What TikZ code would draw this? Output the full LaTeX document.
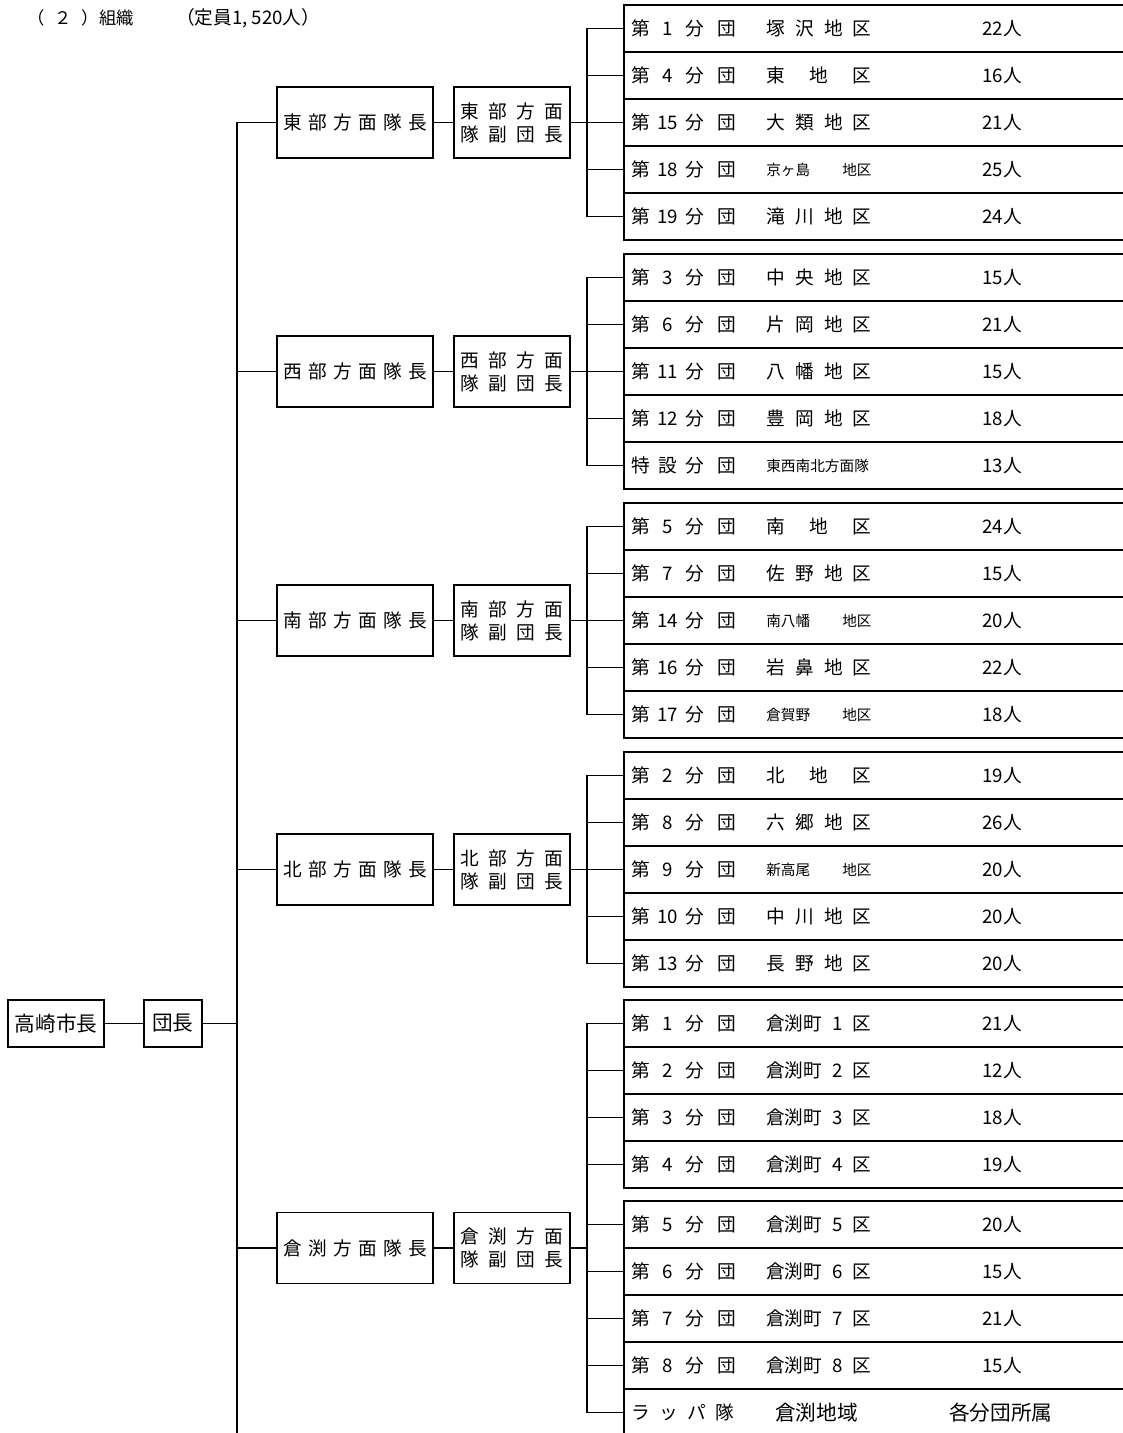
\documentclass[tikz,border=0pt]{standalone}
\usepackage{fontspec}
\setmainfont{Noto Sans CJK JP}
\usetikzlibrary{positioning}

\newcommand{\bun}[2]{#1\makebox[1.9em]{#2}分\hspace{.7em}団}
\newcommand{\chiku}[1]{\makebox[79pt][s]{#1}}
\newcommand{\smalljp}{\fontsize{11}{13}\selectfont}

\begin{document}
\begin{tikzpicture}[
    x=0.75pt, y=-0.75pt,
    link/.style={line width=1.4pt, line cap=rect},
    boss/.style={rectangle, draw, line width=1.4pt, minimum height=35.25pt, inner sep=0pt, font=\fontsize{15.5}{18}\selectfont},
    chief/.style={rectangle, draw, line width=1.4pt, minimum width=117pt, minimum height=53.25pt, inner sep=0pt, font=\fontsize{14}{17}\selectfont},
    vice/.style={chief, minimum width=87pt, align=center, font=\fontsize{14}{17.25}\selectfont},
    cell/.style={minimum width=373.5pt, minimum height=35.25pt, inner sep=0pt, anchor=west},
    txt/.style={anchor=west, inner sep=0pt, font=\fontsize{14}{16}\selectfont},
    title/.style={anchor=west, inner sep=0pt, font=\fontsize{13}{16}\selectfont},
    node distance=14.25pt
]
    \useasboundingbox (0,0) rectangle (1122,1433);

    % Title
    \node[title] (section) at (27,18) {（\hspace{7.5pt}２\hspace{7.5pt}）組織};
    \node[title, font=\fontsize{14}{16}\selectfont] (quota) at (176,18) {（定員1,\hspace{3pt}520人）};

    % Nodes
    \node[boss, minimum width=72pt] (mayor) at (56,1023.5) {高崎市長};
    \node[boss, minimum width=43.5pt, right=28.5pt of mayor] (dancho) {団長};

    \foreach \yc/\ca/\cb [count=\k] in {122.5/東/部, 371.5/西/部, 620.5/南/部, 869.5/北/部, 1248/倉/渕}{
        \node[chief] (hq\k) at (355,\yc) {\makebox[108pt][s]{\ca\ \cb\ 方 面 隊 長}};
        \node[vice, right=of hq\k] (vice\k) {\makebox[76.5pt][s]{\ca\ \cb\ 方 面}\\\makebox[76.5pt][s]{隊 副 団 長}};
    }

    % Table rows
    \foreach \y/\ka/\kb/\kc [count=\i] in {
        28.5/{\bun{第}{1}}/{\chiku{塚 沢 地 区}}/22人,
        75.5/{\bun{第}{4}}/{\chiku{東 地 区}}/16人,
        122.5/{\bun{第}{15}}/{\chiku{大 類 地 区}}/21人,
        169.5/{\bun{第}{18}}/{\chiku{\smalljp 京ヶ島 地区}}/25人,
        216.5/{\bun{第}{19}}/{\chiku{滝 川 地 区}}/24人,
        277.5/{\bun{第}{3}}/{\chiku{中 央 地 区}}/15人,
        324.5/{\bun{第}{6}}/{\chiku{片 岡 地 区}}/21人,
        371.5/{\bun{第}{11}}/{\chiku{八 幡 地 区}}/15人,
        418.5/{\bun{第}{12}}/{\chiku{豊 岡 地 区}}/18人,
        465.5/{\bun{特}{設}}/{\smalljp 東西南北方面隊}/13人,
        526.5/{\bun{第}{5}}/{\chiku{南 地 区}}/24人,
        573.5/{\bun{第}{7}}/{\chiku{佐 野 地 区}}/15人,
        620.5/{\bun{第}{14}}/{\chiku{\smalljp 南八幡 地区}}/20人,
        667.5/{\bun{第}{16}}/{\chiku{岩 鼻 地 区}}/22人,
        714.5/{\bun{第}{17}}/{\chiku{\smalljp 倉賀野 地区}}/18人,
        775.5/{\bun{第}{2}}/{\chiku{北 地 区}}/19人,
        822.5/{\bun{第}{8}}/{\chiku{六 郷 地 区}}/26人,
        869.5/{\bun{第}{9}}/{\chiku{\smalljp 新高尾 地区}}/20人,
        916.5/{\bun{第}{10}}/{\chiku{中 川 地 区}}/20人,
        963.5/{\bun{第}{13}}/{\chiku{長 野 地 区}}/20人,
        1023.5/{\bun{第}{1}}/{\chiku{倉渕町 1 区}}/21人,
        1070.5/{\bun{第}{2}}/{\chiku{倉渕町 2 区}}/12人,
        1117.5/{\bun{第}{3}}/{\chiku{倉渕町 3 区}}/18人,
        1164.5/{\bun{第}{4}}/{\chiku{倉渕町 4 区}}/19人,
        1224.5/{\bun{第}{5}}/{\chiku{倉渕町 5 区}}/20人,
        1271.5/{\bun{第}{6}}/{\chiku{倉渕町 6 区}}/15人,
        1318.5/{\bun{第}{7}}/{\chiku{倉渕町 7 区}}/21人,
        1365.5/{\bun{第}{8}}/{\chiku{倉渕町 8 区}}/15人}{
        \node[cell] (row\i) at (624,\y) {};
        \draw[link, line cap=butt] (row\i.north east) -- (row\i.north west) -- (row\i.south west) -- (row\i.south east);
        \node[txt] (unit\i) at (631,\y) {\ka};
        \node[txt] (area\i) at (766,\y) {\kb};
        \node[txt] (size\i) at (982,\y) {\kc};
    }
    \node[cell] (row29) at (624,1412.5) {};
    \draw[link, line cap=butt] (row29.north east) -- (row29.north west) -- (row29.south west) -- (row29.south east);
    \node[txt] (unit29) at (631,1412.5) {ラ\hspace{.5em}ッ\hspace{.5em}パ\hspace{.5em}隊};
    \node[txt, font=\fontsize{15.5}{18}\selectfont] (area29) at (775,1412.5) {倉渕地域};
    \node[txt, font=\fontsize{15.5}{18}\selectfont] (size29) at (949,1412.5) {各分団所属};

    % Lines
    \coordinate (trunk) at (237,0);
    \coordinate (bus) at (587,0);
    \coordinate (trunkend) at (237,1433);
    \draw[link] (mayor) -- (dancho);
    \draw[link] (dancho.east) -- (dancho.east -| trunk);
    \draw[link] (hq1.west -| trunk) -- (trunkend);
    \foreach \k in {1,...,5}{
        \draw[link] (hq\k.west -| trunk) -- (hq\k.west);
        \draw[link] (hq\k) -- (vice\k);
        \draw[link] (vice\k.east) -- (vice\k.east -| bus);
    }
    \foreach \a/\b in {1/5, 6/10, 11/15, 16/20, 21/29}
        \draw[link] (row\a.west -| bus) -- (row\b.west -| bus);
    \foreach \i in {1,...,29}
        \draw[link] (row\i.west -| bus) -- (row\i.west);
\end{tikzpicture}
\end{document}
